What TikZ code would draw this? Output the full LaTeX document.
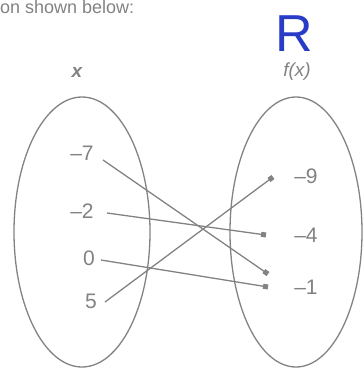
\documentclass[tikz,border=0pt]{standalone}
\usepackage{fontspec}
\setmainfont{Liberation Sans}
\usetikzlibrary{arrows.meta}
\definecolor{ink}{RGB}{130,130,130}
\definecolor{pen}{RGB}{40,60,200}
\tikzset{
  lbl/.style={text=ink, font=\fontsize{21}{24}\selectfont, inner sep=1pt},
  oval/.style={draw=ink, line width=1.3pt},
  mapline/.style={draw=ink, line width=1.3pt, -{Square[length=5pt,width=5pt]}},
}
\begin{document}
\begin{tikzpicture}[x=1pt,y=-1pt]
\useasboundingbox (0,0) rectangle (363,373);
\node[lbl, anchor=north west, inner sep=0pt, font=\fontsize{18}{20}\selectfont] (hdr) at (0,0.5) {on shown below:};
\node[text=pen, font=\fontsize{52}{52}\selectfont, inner sep=0pt] (R) at (294,34) {R};
\node[lbl, font=\fontsize{19}{22}\selectfont\itshape\bfseries] (xl) at (77,72) {x};
\node[lbl, font=\fontsize{19}{22}\selectfont\itshape] (fl) at (297,72) {f(x)};
\draw[oval] (82,232) ellipse [x radius=68, y radius=135];
\draw[oval] (296,232) ellipse [x radius=66, y radius=135];
\node[lbl] (a) at (82,153) {\textendash7};
\node[lbl] (b) at (82,211) {\textendash2};
\node[lbl] (c) at (89,258) {0};
\node[lbl] (d) at (91,301) {5};
\node[lbl] (p) at (306,176) {\textendash9};
\node[lbl] (q) at (306,235) {\textendash4};
\node[lbl] (s) at (306,287) {\textendash1};
\coordinate (a1) at (103,160);
\coordinate (b1) at (107,213);
\coordinate (c1) at (101,260);
\coordinate (d1) at (105,302);
\coordinate (p1) at (273,177);
\coordinate (q1) at (266,235);
\coordinate (s1) at (268,274);
\coordinate (s2) at (268,287);
\draw[mapline] (a1) -- (s1);
\draw[mapline] (b1) -- (q1);
\draw[mapline] (c1) -- (s2);
\draw[mapline] (d1) -- (p1);
\end{tikzpicture}
\end{document}
